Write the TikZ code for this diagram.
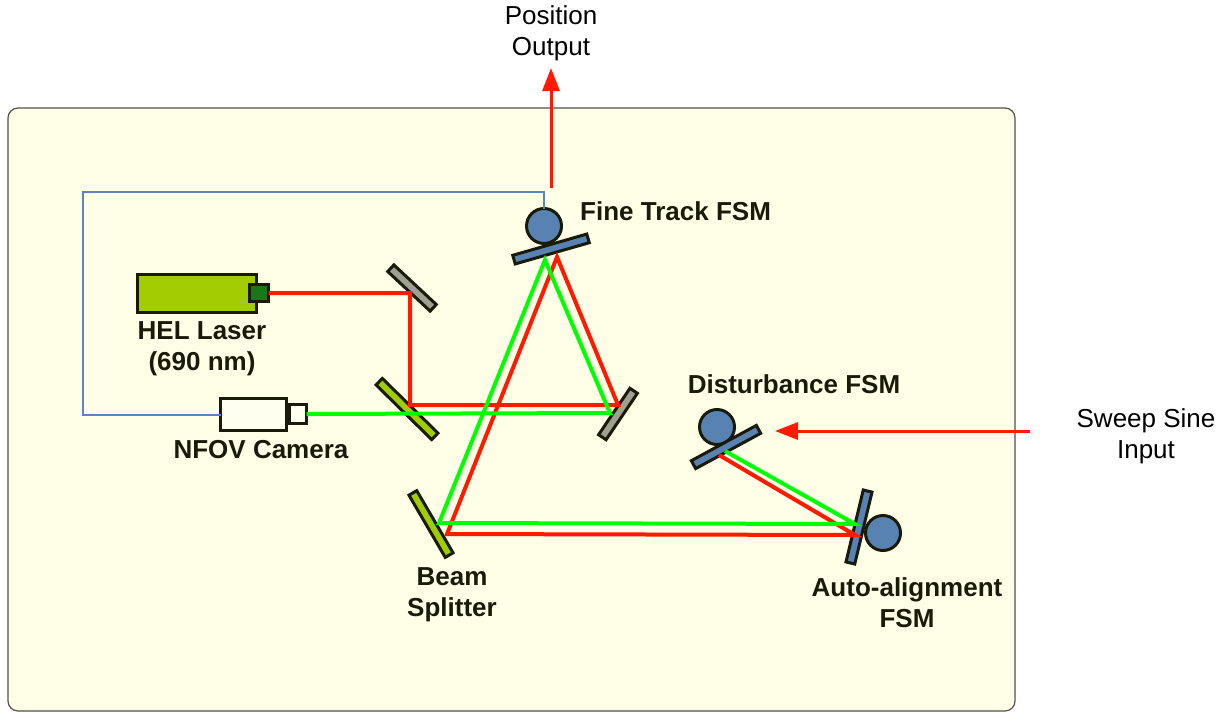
\documentclass[tikz,border=0pt]{standalone}
\usepackage{fontspec}
\setmainfont{Liberation Sans}
\usetikzlibrary{arrows.meta}

\definecolor{panel}{RGB}{255,255,232}
\definecolor{paneledge}{RGB}{80,80,80}
\definecolor{beamred}{RGB}{255,26,0}
\definecolor{beamgreen}{RGB}{0,255,0}
\definecolor{fsmblue}{RGB}{88,130,178}
\definecolor{wireblue}{RGB}{92,134,184}
\definecolor{mirrorgray}{RGB}{160,160,145}
\definecolor{splitgreen}{RGB}{160,204,0}
\definecolor{aperture}{RGB}{24,120,24}
\definecolor{camfill}{RGB}{255,255,240}
\definecolor{ink}{RGB}{26,26,10}

\begin{document}
\begin{tikzpicture}[x=1pt,y=-1pt,
  part/.style={draw=ink,line width=3pt,inner sep=0pt,outer sep=0pt},
  mirrorbox/.style={part,rectangle,minimum height=9pt},
  graymirror/.style={mirrorbox,fill=mirrorgray},
  splitter/.style={mirrorbox,fill=splitgreen},
  fsmplate/.style={mirrorbox,fill=fsmblue},
  fsmdisk/.style={part,circle,fill=fsmblue,minimum size=35pt},
  redbeam/.style={draw=beamred,line width=4pt},
  greenbeam/.style={draw=beamgreen,line width=4pt},
  wire/.style={draw=wireblue,line width=2pt},
  signal/.style={draw=beamred,line width=3pt,-{Triangle[length=23pt,width=17pt]}},
  boldlabel/.style={font=\fontsize{26pt}{31pt}\selectfont\bfseries,text=ink,align=center,inner sep=0pt},
  plainlabel/.style={font=\fontsize{26pt}{31pt}\selectfont,text=black,align=center,inner sep=0pt}
]
\useasboundingbox (0,0) rectangle (1230,713);

% optical bench
\draw[draw=paneledge,line width=1.2pt,fill=panel,rounded corners=10pt] (8,108) rectangle (1015,711);

% laser and camera
\node[part,fill=splitgreen,minimum width=119pt,minimum height=38pt] (laser) at (196.5,293) {};
\node[part,fill=aperture,minimum width=19pt,minimum height=17pt] (lap) at (259,293) {};
\node[part,fill=camfill,minimum width=66pt,minimum height=32pt] (cam) at (253.5,414.5) {};
\node[part,fill=camfill,minimum width=17pt,minimum height=19pt] (lens) at (298,414) {};

% steering mirrors and FSMs
\node[fsmdisk] (ftdisk) at (544,226) {};
\node[fsmplate,minimum width=77pt,rotate=16] (ftplate) at (551,249) {};
\node[graymirror,minimum width=58pt,rotate=-43] (m1) at (412,288) {};
\node[graymirror,minimum width=56pt,rotate=56] (m2) at (618,414) {};
\node[splitter,minimum width=78pt,rotate=-44.5] (bs1) at (407,409) {};
\node[splitter,minimum width=72pt,rotate=-59.7] (bs2) at (431,524) {};
\node[fsmdisk] (dsdisk) at (717,427) {};
\node[fsmplate,minimum width=74pt,rotate=28.5] (dsplate) at (726,447) {};
\node[fsmdisk] (aadisk) at (883,533) {};
\node[fsmplate,minimum width=74pt,rotate=76.5] (aaplate) at (859,527) {};

% beam hit points
\coordinate (r1) at (410,293);
\coordinate (r2) at (410,405);
\coordinate (r3) at (618,405);
\coordinate (r4) at (557,257);
\coordinate (r5) at (447,534);
\coordinate (r6) at (855,535);
\coordinate (r7) at (719,455);
\coordinate (g1) at (610,413);
\coordinate (g2) at (545,260);
\coordinate (g3) at (439,523);
\coordinate (g4) at (855,524);
\coordinate (g5) at (725,451);

% control wiring from camera to fine track FSM
\coordinate (wcorner) at (83,192);
\draw[wire] (cam.west) -| (wcorner) -| (ftdisk.north);

% laser beam and camera return path
\draw[redbeam] (lap.east) -- (r1) -- (r2) -- (r3) -- (r4) -- (r5) -- (r6) -- (r7);
\draw[greenbeam] (lens.east) -- (g1) -- (g2) -- (g3) -- (g4) -- (g5);

% signals
\coordinate (outstart) at (551,188);
\coordinate (outtip) at (551,68);
\draw[signal] (outstart) -- (outtip);
\coordinate (sweepstart) at (1030,431);
\coordinate (sweeptip) at (775,431);
\draw[signal] (sweepstart) -- (sweeptip);

% labels
\node[plainlabel] (posout) at (551,33) {Position\\Output};
\node[plainlabel] (sweep) at (1146,436) {Sweep Sine\\Input};
\node[boldlabel,anchor=west] (ftlabel) at (580,211) {Fine Track FSM};
\node[boldlabel] (laserlabel) at (202,349) {HEL Laser\\(690 nm)};
\node[boldlabel] (camlabel) at (261,450) {NFOV Camera};
\node[boldlabel] (dslabel) at (794,384) {Disturbance FSM};
\node[boldlabel] (bslabel) at (452,595) {Beam\\Splitter};
\node[boldlabel] (aalabel) at (907,603) {Auto-alignment\\FSM};
\end{tikzpicture}
\end{document}
